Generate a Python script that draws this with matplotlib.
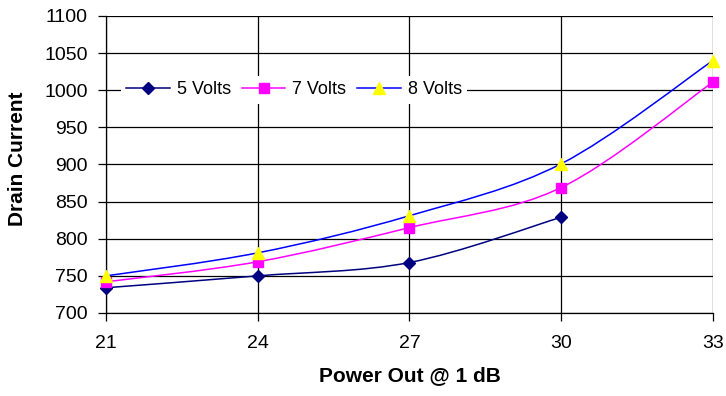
import matplotlib
matplotlib.use("Agg")
import matplotlib.pyplot as plt
from matplotlib.path import Path
from matplotlib.patches import PathPatch
from matplotlib.lines import Line2D

plt.rcParams['font.family'] = ['Liberation Sans', 'DejaVu Sans']

# data
power_5v = [21, 24, 27, 30]
current_5v = [734, 750, 768, 829]
power_7v = [21, 24, 27, 30, 33]
current_7v = [742, 769, 815, 869, 1011]
power_8v = [21, 24, 27, 30, 33]
current_8v = [750, 781, 831, 901, 1040]

x_ticks = [21, 24, 27, 30, 33]
y_ticks = list(range(700, 1101, 50))


def smooth_path(xs, ys):
    # Excel-style smoothed line: cubic bezier segments through the points
    pts = list(zip(xs, ys))
    n = len(pts)
    verts = [pts[0]]
    codes = [Path.MOVETO]
    for i in range(n - 1):
        p0 = pts[i - 1] if i > 0 else pts[i]
        p1 = pts[i]
        p2 = pts[i + 1]
        p3 = pts[i + 2] if i + 2 < n else pts[i + 1]
        c1 = (p1[0] + (p2[0] - p0[0]) / 6, p1[1] + (p2[1] - p0[1]) / 6)
        c2 = (p2[0] - (p3[0] - p1[0]) / 6, p2[1] - (p3[1] - p1[1]) / 6)
        verts += [c1, c2, p2]
        codes += [Path.CURVE4] * 3
    return Path(verts, codes)


series = [
    ('5 Volts', power_5v, current_5v, '#000080', 'D', '#000080', 6),
    ('7 Volts', power_7v, current_7v, '#FF00FF', 's', '#FF00FF', 7),
    ('8 Volts', power_8v, current_8v, '#0000FF', '^', '#FFFF00', 8),
]

fig = plt.figure(figsize=(7.26, 3.96), dpi=100)
ax = fig.add_axes([0.146, 0.2096, 0.836, 0.75])

handles = []
for name, xs, ys, lc, mk, mc, ms in series:
    ax.add_patch(PathPatch(smooth_path(xs, ys), facecolor='none',
                           edgecolor=lc, lw=1.1, zorder=3))
    ax.plot(xs, ys, ls='none', marker=mk, ms=ms, mfc=mc, mec=mc, zorder=4,
            clip_on=False)
    handles.append(Line2D([], [], color=lc, lw=1.1, marker=mk, ms=ms,
                          mfc=mc, mec=mc, label=name))

ax.set_xlim(21, 33)
ax.set_ylim(700, 1100)
ax.set_xticks(x_ticks)
ax.set_yticks(y_ticks)
ax.grid(True, color='black', lw=0.9)
ax.set_axisbelow(True)
for s in ['top', 'right']:
    ax.spines[s].set_visible(False)
for s in ['left', 'bottom']:
    ax.spines[s].set_linewidth(0.9)
ax.tick_params(direction='out', length=6, width=0.9, labelsize=14, pad=7)
ax.tick_params(axis='x', pad=10)

ax.set_xlabel('Power Out @ 1 dB', fontsize=15, fontweight='bold')
ax.set_ylabel('Drain Current', fontsize=15, fontweight='bold')
ax.xaxis.set_label_coords(0.5, -0.212)
ax.xaxis.label.set_va('center')
ax.yaxis.set_label_coords(-0.145, 0.518)
ax.yaxis.label.set_va('center')

leg = ax.legend(handles=handles, loc='center', bbox_to_anchor=(0.31, 0.752),
                ncol=3, fontsize=13, frameon=True, fancybox=False,
                handlelength=2.4, handletextpad=0.4, columnspacing=0.6,
                borderpad=0.3, borderaxespad=0)
leg.get_frame().set_facecolor('white')
leg.get_frame().set_edgecolor('none')
leg.get_frame().set_alpha(1)

plt.savefig('out.png', dpi=100)
